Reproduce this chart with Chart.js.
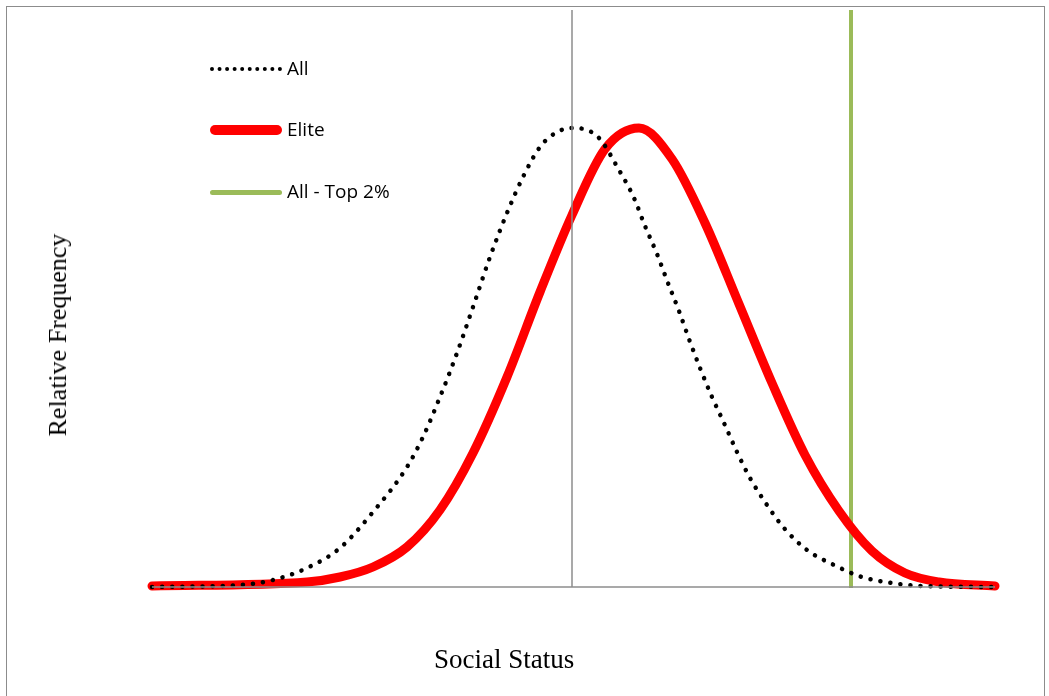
<!DOCTYPE html>
<html><head><meta charset="utf-8">
<script src="https://cdn.jsdelivr.net/npm/chart.js@4"></script>
<style>
body{margin:0;background:#fff;}
#wrap{position:relative;width:1049px;height:696px;}
#frame{position:absolute;left:6px;top:6px;width:1037px;height:700px;border:1px solid #8c8c8c;}
canvas{position:absolute;left:0;top:0;}
.t{position:absolute;font-family:"Liberation Serif","DejaVu Serif",serif;color:#000;}
.lg{position:absolute;left:210px;font-family:"Open Sans","Liberation Sans",sans-serif;font-size:19px;}
.lg span{position:absolute;left:77px;top:-14px;white-space:nowrap;}
.lg div{position:absolute;left:0;width:72px;}
</style></head><body>
<div id="wrap">
<div id="frame"></div>
<canvas id="c" width="1049" height="696"></canvas>
<div class="t" style="left:434px;top:644px;font-size:27px;">Social Status</div>
<div class="t" style="left:58px;top:335px;font-size:26px;transform:translate(-50%,-50%) rotate(-90deg);white-space:nowrap;">Relative Frequency</div>
<div class="lg" style="top:69px"><div style="top:-2px;border-top:4px dotted #000;"></div><span>All</span></div>
<div class="lg" style="top:130px"><div style="top:-5px;height:10px;border-radius:5px;background:#ff0000;"></div><span>Elite</span></div>
<div class="lg" style="top:192px"><div style="top:-2px;height:5px;border-radius:3px;background:#9bbb59;"></div><span>All - Top 2%</span></div>
</div>
<script>
const allX = [152,240,273,307,340,373,407,423,440,457,473,490,507,523,540,557,573,598,619,634,645,657,668,679,689,700,712,724,737,750,767,784,807,834,862,892,922,995];
const allY = [0,2,7,19,39,75,120,150,190,234,280,330,374,410,440,455,459,450,417,389,361,333,304,276,248,219,190,164,135,109,82,59,37,22,10,4,1,0];
const eliteX = [152,307,340,373,407,440,473,507,540,572,605,639,672,705,739,772,805,839,872,905,939,995];
const eliteY = [1,5,10,20,40,77,134,210,295,372,438,459,428,364,283,204,132,76,36,14,5,1];
const greenX = 851;
const yMax = 577;
const pts=(xs,ys)=>xs.map((x,i)=>({x,y:ys[i]}));
new Chart(document.getElementById('c'),{
 type:'scatter',
 data:{datasets:[
  {data:[{x:152,y:0},{x:995,y:0}],showLine:true,borderColor:'#8c8c8c',borderWidth:1.5,pointRadius:0},
  {data:[{x:572,y:0},{x:572,y:yMax}],showLine:true,borderColor:'#8c8c8c',borderWidth:1.5,pointRadius:0},
  {data:pts(allX,allY),showLine:true,borderColor:'#000',borderWidth:4.5,borderDash:[0.1,10],borderCapStyle:'round',pointRadius:0,cubicInterpolationMode:'monotone'},
  {data:pts(eliteX,eliteY),showLine:true,borderColor:'#ff0000',borderWidth:9,borderCapStyle:'round',pointRadius:0,cubicInterpolationMode:'monotone'},
  {data:[{x:greenX,y:-1},{x:greenX,y:yMax}],showLine:true,borderColor:'#9bbb59',borderWidth:4,pointRadius:0}
 ]},
 options:{responsive:false,animation:false,
  layout:{padding:{left:152,right:54,top:10,bottom:109}},
  plugins:{legend:{display:false},tooltip:{enabled:false}},
  scales:{x:{type:'linear',min:152,max:995,display:false},y:{min:0,max:yMax,display:false}},
  clip:false}
});
</script></body></html>
